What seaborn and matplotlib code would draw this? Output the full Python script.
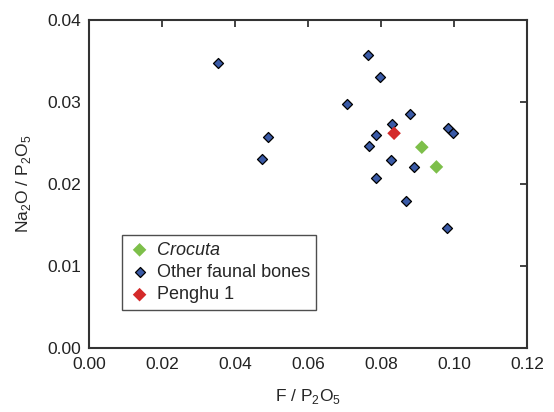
import seaborn as sns
import matplotlib.pyplot as plt
import pandas as pd

# F / P2O5 and Na2O / P2O5
other_f = [0.0353, 0.0489, 0.0474, 0.0707, 0.0763, 0.0797, 0.0878, 0.0830, 0.0785,
           0.0765, 0.0826, 0.0890, 0.0785, 0.0867, 0.0979, 0.0984, 0.0997]
other_na = [0.0348, 0.0258, 0.0231, 0.0298, 0.0357, 0.0330, 0.0286, 0.0273, 0.0260,
            0.0247, 0.0229, 0.0221, 0.0207, 0.0180, 0.0147, 0.0269, 0.0262]
crocuta_f = [0.0911, 0.0951]
crocuta_na = [0.0245, 0.0221]
penghu_f = [0.0835]
penghu_na = [0.0262]

sns.set_style('white')
plt.rcParams['font.family'] = ['Liberation Sans', 'DejaVu Sans']
plt.rcParams['mathtext.fontset'] = 'custom'
plt.rcParams['mathtext.rm'] = 'Liberation Sans'

fig = plt.figure(figsize=(5.54, 4.12), dpi=100)
ax = fig.add_axes([0.1612, 0.1546, 0.7906, 0.7969])

sns.scatterplot(x=crocuta_f, y=crocuta_na, ax=ax, marker='D', s=48,
                color='#7dbf4a', edgecolor='none', label='Crocuta', zorder=3)
sns.scatterplot(x=other_f, y=other_na, ax=ax, marker='D', s=26,
                color='#3a5aa6', edgecolor='black', linewidth=0.9,
                label='Other faunal bones', zorder=3)
sns.scatterplot(x=penghu_f, y=penghu_na, ax=ax, marker='D', s=48,
                color='#d42a2a', edgecolor='none', label='Penghu 1', zorder=4)

ax.set_xlim(0, 0.12)
ax.set_ylim(0, 0.04)
ax.set_xticks([0.00, 0.02, 0.04, 0.06, 0.08, 0.10, 0.12])
ax.set_yticks([0.00, 0.01, 0.02, 0.03, 0.04])
ax.set_xticklabels(['0.00', '0.02', '0.04', '0.06', '0.08', '0.10', '0.12'])
ax.set_yticklabels(['0.00', '0.01', '0.02', '0.03', '0.04'])
ax.tick_params(direction='in', length=5, width=1.2, top=True, right=True,
               labelsize=12.5, colors='#222222', pad=6)
for sp in ax.spines.values():
    sp.set_linewidth(1.5)
    sp.set_color('#333333')

ax.set_xlabel('F / P$_2$O$_5$', fontsize=12.5, labelpad=11)
ax.set_ylabel('Na$_2$O / P$_2$O$_5$', fontsize=12.5, labelpad=10)

leg = ax.legend(loc='lower left', bbox_to_anchor=(0.055, 0.09), fontsize=13,
                frameon=True, fancybox=False, edgecolor='#222222',
                handletextpad=0.35, labelspacing=0.3, borderpad=0.35,
                handlelength=1.2)
leg.get_frame().set_linewidth(1.0)
leg.get_texts()[0].set_fontstyle('italic')

fig.savefig('out.png', dpi=100)
